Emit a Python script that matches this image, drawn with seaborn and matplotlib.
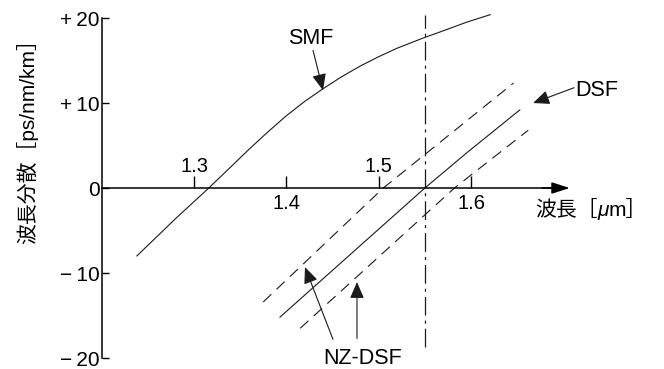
import numpy as np
import pandas as pd
import seaborn as sns
import matplotlib.pyplot as plt

# --- data -------------------------------------------------------------
smf_wavelength = [1.238, 1.26, 1.28, 1.30, 1.316, 1.34, 1.36, 1.38, 1.40,
                  1.42, 1.44, 1.46, 1.48, 1.50, 1.52, 1.547, 1.57, 1.595,
                  1.621]
smf_dispersion = [-8.0, -5.7, -3.6, -1.6, 0.0, 2.5, 4.6, 6.6, 8.5,
                  10.2, 11.7, 13.1, 14.35, 15.45, 16.45, 17.6, 18.5, 19.5,
                  20.4]

dsf_wavelength = [1.393, 1.550, 1.596, 1.653]
dsf_dispersion = [-15.2, 0.0, 4.2, 9.2]

nzdsf_plus_wavelength = [1.375, 1.505, 1.646]
nzdsf_plus_dispersion = [-13.4, 0.0, 12.35]

nzdsf_minus_wavelength = [1.415, 1.582, 1.662]
nzdsf_minus_dispersion = [-16.5, 0.0, 6.8]

signal_wavelength = 1.55
signal_span = [-18.7, 20.4]

x_ticks = [1.3, 1.4, 1.5, 1.6]
x_tick_labels = ["1.3", "1.4", "1.5", "1.6"]
x_label_above = [True, False, True, False]
y_ticks = [20, 10, 0, -10, -20]
y_tick_labels = ["+\u200920", "+\u200910", "0", "\u2212\u200910", "\u2212\u200920"]

x_start, x_end = 1.2, 1.707

# --- figure -----------------------------------------------------------
sns.set_theme(style="white")
plt.rcParams["font.family"] = ["Liberation Sans", "Noto Sans CJK JP", "DejaVu Sans"]

fig = plt.figure(figsize=(6.64, 3.69), dpi=100)
ax = fig.add_axes([0, 0, 1, 1])
ax.set_facecolor("none")
ax.set_xlim(1.0899, 1.8090)
ax.set_ylim(-21.29, 22.12)

ink = "#1a1a1a"
curve_lw = 0.8

sns.lineplot(x=smf_wavelength, y=smf_dispersion, ax=ax, color=ink,
             lw=curve_lw, estimator=None)
sns.lineplot(x=dsf_wavelength, y=dsf_dispersion, ax=ax, color=ink,
             lw=curve_lw, estimator=None)
for wl, disp in [(nzdsf_plus_wavelength, nzdsf_plus_dispersion),
                 (nzdsf_minus_wavelength, nzdsf_minus_dispersion)]:
    sns.lineplot(x=wl, y=disp, ax=ax, color=ink, lw=curve_lw,
                 estimator=None, linestyle=(0, (10, 6.5)))

# 1.55 um marker line
ax.vlines(signal_wavelength, signal_span[0], signal_span[1], colors=ink,
          lw=0.9, linestyles=[(0, (15, 4, 2.5, 4))])

# --- axes -------------------------------------------------------------
for side in ["top", "right"]:
    ax.spines[side].set_visible(False)
ax.spines["left"].set_position(("data", x_start))
ax.spines["left"].set_bounds(y_ticks[-1], y_ticks[0])
ax.spines["bottom"].set_position(("data", 0))
ax.spines["bottom"].set_bounds(x_start, x_end - 0.01)
for side in ["left", "bottom"]:
    ax.spines[side].set_color("black")
    ax.spines[side].set_linewidth(1.1)

ax.set_yticks(y_ticks, y_tick_labels)
ax.tick_params(axis="y", left=True, direction="in", length=5, width=1.0,
               pad=1.5, labelsize=15, colors="black")
ax.set_xticks(x_ticks, [""] * len(x_ticks))
ax.tick_params(axis="x", bottom=True, direction="in", length=8.5,
               width=1.0, labelbottom=False, colors="black")

ax.annotate("", xy=(x_end, 0), xytext=(x_end - 0.03, 0),
            arrowprops=dict(arrowstyle="-|>,head_length=1.1,head_width=0.35",
                            mutation_scale=10, lw=1.1, color="black",
                            shrinkA=0, shrinkB=0))

for wl, lab, above in zip(x_ticks, x_tick_labels, x_label_above):
    ax.annotate(lab, xy=(wl, 0), xytext=(0, 11.5 if above else -15.2),
                textcoords="offset points", ha="center", va="baseline",
                fontsize=14.5, color="black")

# axis titles
xl1 = fig.text(535 / 664, 1 - 216 / 369, "波長［", fontsize=15,
               ha="left", va="baseline", color="black")
xl2 = ax.annotate("μ", xy=(1, 0), xycoords=xl1, ha="left", va="bottom",
                  fontsize=15, fontstyle="italic", color="black")
ax.annotate("m］", xy=(1, 0), xycoords=xl2, ha="left", va="bottom",
            fontsize=15, color="black")

fig.text(27 / 664, 1 - 136 / 369, "波長分散［ps/nm/km］", rotation=90,
         ha="center", va="center", fontsize=15, color="black")

# --- callouts ---------------------------------------------------------
head = dict(arrowstyle="-|>,head_length=1.0,head_width=0.43",
            mutation_scale=10, lw=0.8, color=ink, shrinkA=0, shrinkB=0)

ax.text(1.4018, 16.9, "SMF", fontsize=15.5, ha="left", va="baseline",
        color="black")
ax.annotate("", xy=(1.4397, 11.5), xytext=(1.4289, 16.2), arrowprops=head)

ax.text(1.7127, 10.8, "DSF", fontsize=15.5, ha="left", va="baseline",
        color="black")
ax.annotate("", xy=(1.6672, 10.0), xytext=(1.7116, 11.8), arrowprops=head)

ax.text(1.4397, -20.75, "NZ-DSF", fontsize=15.5, ha="left", va="baseline",
        color="black")
ax.annotate("", xy=(1.4202, -9.3), xytext=(1.4505, -17.8), arrowprops=head)
ax.annotate("", xy=(1.4765, -11.06), xytext=(1.4765, -17.7), arrowprops=head)

fig.savefig("out.png", dpi=100)
